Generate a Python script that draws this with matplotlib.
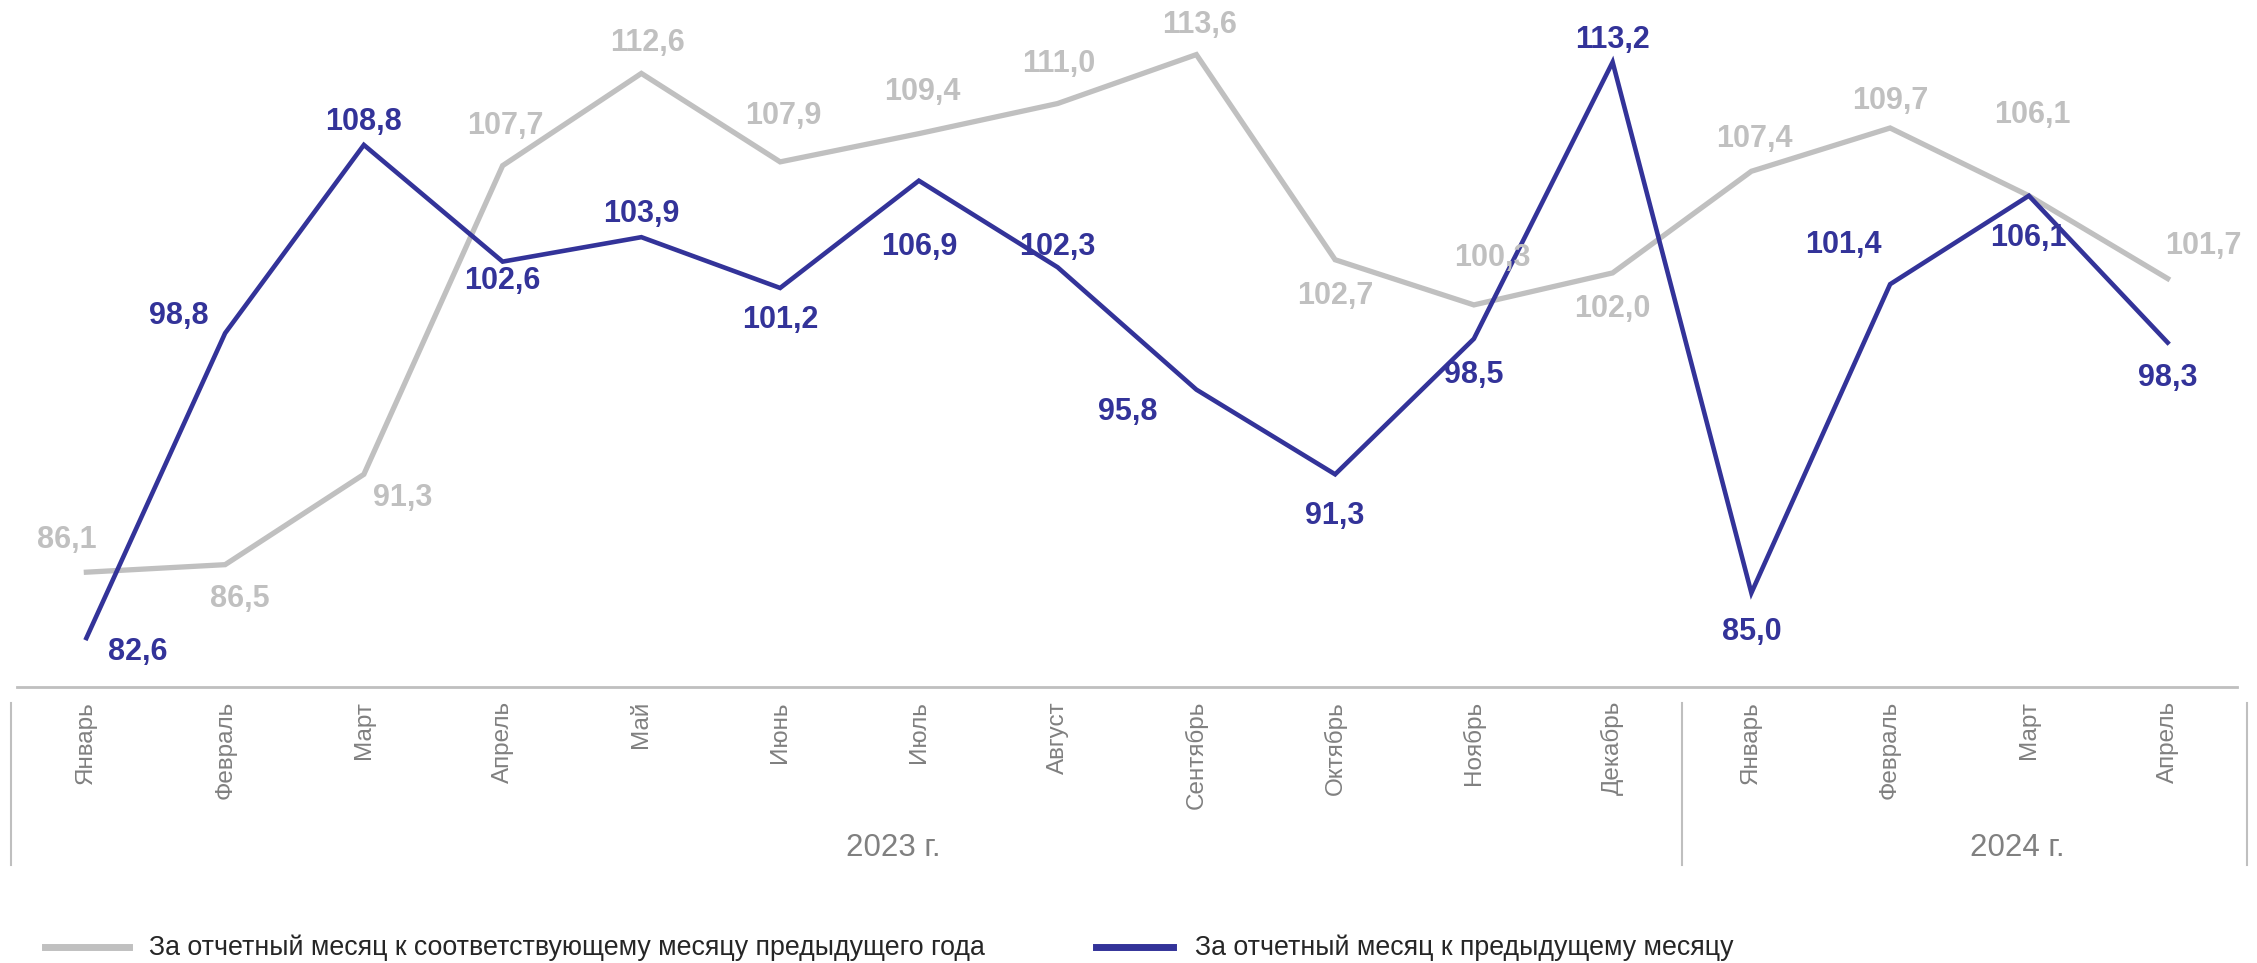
import numpy as np
import matplotlib
matplotlib.use("Agg")
import matplotlib.pyplot as plt
from matplotlib.lines import Line2D

plt.rcParams['font.family'] = ['Liberation Sans', 'DejaVu Sans']

# данные
months = ['Январь', 'Февраль', 'Март', 'Апрель', 'Май', 'Июнь', 'Июль', 'Август',
          'Сентябрь', 'Октябрь', 'Ноябрь', 'Декабрь',
          'Январь', 'Февраль', 'Март', 'Апрель']
years = ['2023 г.', '2024 г.']
yoy = [86.1, 86.5, 91.3, 107.7, 112.6, 107.9, 109.4, 111.0, 113.6, 102.7, 100.3,
       102.0, 107.4, 109.7, 106.1, 101.7]
mom = [82.6, 98.8, 108.8, 102.6, 103.9, 101.2, 106.9, 102.3, 95.8, 91.3, 98.5,
       113.2, 85.0, 101.4, 106.1, 98.3]
legend_labels = ['За отчетный месяц к соответствующему месяцу предыдущего года',
                 'За отчетный месяц к предыдущему месяцу']

# смещения подписей (пиксели)
yoy_off = [(-20, 32), (15, -34), (39, -24), (3, 40), (6, 30), (3, 46), (3, 42), (1, 40),
           (3, 30), (0, -36), (19, 47), (0, -36), (3, 32), (0, 27), (4, 81), (36, 33)]
mom_off = [(51, -14), (-46, 17), (0, 23), (0, -19), (0, 23), (0, -32), (0, -66), (0, 20),
           (-69, -22), (0, -42), (0, -36), (0, 22), (0, -39), (-47, 39), (0, -42), (0, -35)]

GRAY = '#C0C0C0'
BLUE = '#333399'
TXT = '#808080'

W, H = 2257, 963
fig = plt.figure(figsize=(W / 100, H / 100), dpi=100)
ax = fig.add_axes([17 / W, 1 - 687 / H, (2237 - 17) / W, 687 / H])

x = np.arange(len(months))
ax.plot(x, yoy, color=GRAY, lw=3.8, solid_joinstyle='miter', zorder=2)
ax.plot(x, mom, color=BLUE, lw=3.3, solid_joinstyle='miter', zorder=3)

for i in range(len(x)):
    ax.annotate(f'{yoy[i]:.1f}'.replace('.', ','), (x[i], yoy[i]), xytext=yoy_off[i],
                textcoords='offset pixels', ha='center', va='center',
                fontsize=22, fontweight='bold', color=GRAY, zorder=4)
    ax.annotate(f'{mom[i]:.1f}'.replace('.', ','), (x[i], mom[i]), xytext=mom_off[i],
                textcoords='offset pixels', ha='center', va='center',
                fontsize=22, fontweight='bold', color=BLUE, zorder=4)

ax.set_xlim(-0.5, len(months) - 0.5)
ax.set_ylim(80, 116.5)
for s in ['left', 'right', 'top']:
    ax.spines[s].set_visible(False)
ax.spines['bottom'].set_color('#BFBFBF')
ax.spines['bottom'].set_linewidth(2)
ax.set_yticks([])
ax.set_xticks([])

# подписи месяцев
for i, m in enumerate(months):
    xf = (17 + (i + 0.5) * (2220 / 16)) / W
    fig.text(xf, 1 - 701 / H, m, rotation=90, ha='center', va='top',
             fontsize=17.5, color=TXT)

# года и разделители
for xp, yr in zip([893, 2017], years):
    fig.text(xp / W, 1 - 848 / H, yr, ha='center', va='center', fontsize=22.5, color=TXT)
for xp in [11, 1682, 2247]:
    fig.add_artist(Line2D([xp / W, xp / W], [1 - 703 / H, 1 - 865 / H],
                          color='#BFBFBF', lw=1.5))

# легенда
for (x0, x1, xt), c, lab in zip([(45, 129, 149), (1096, 1173, 1195)], [GRAY, BLUE], legend_labels):
    fig.add_artist(Line2D([x0 / W, x1 / W], [1 - 947 / H, 1 - 947 / H], color=c, lw=5))
    fig.text(xt / W, 1 - 948 / H, lab, ha='left', va='center', fontsize=19.3, color='#262626')

fig.savefig('out.png', dpi=100)
